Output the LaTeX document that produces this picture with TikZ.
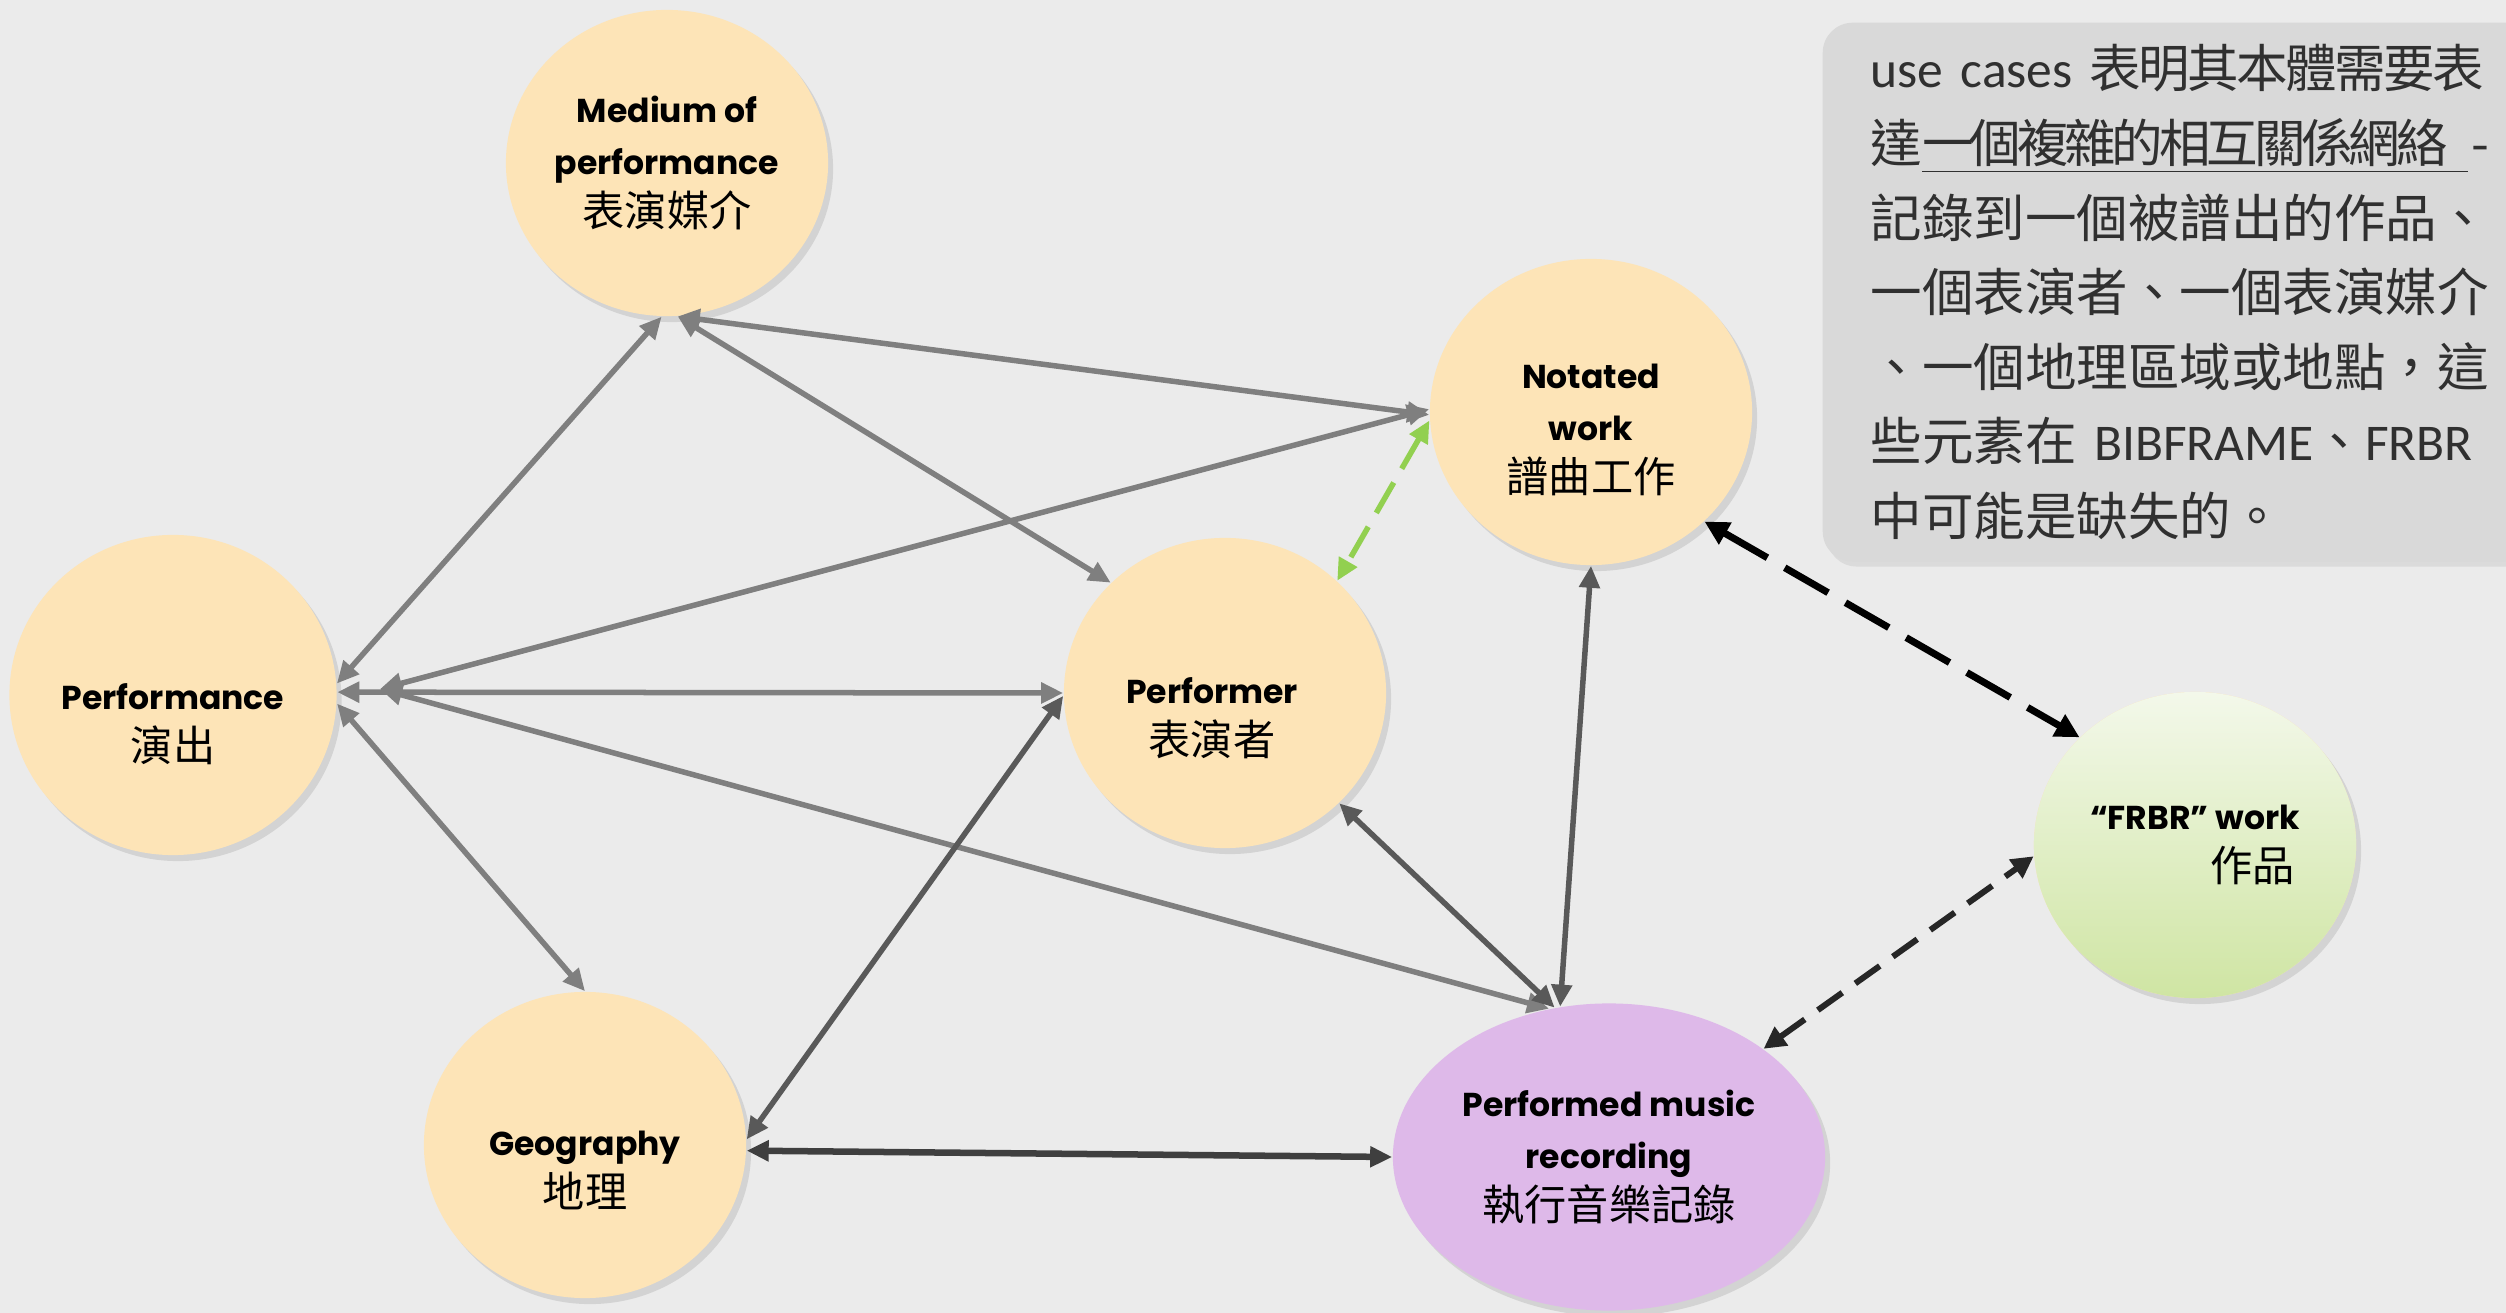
\documentclass[tikz,border=0pt]{standalone}
\usepackage{fontspec}
\setmainfont{Poppins}
\newfontfamily\cjk{Noto Sans CJK TC}
\newfontfamily\latn{Carlito}
\usetikzlibrary{arrows.meta, shapes.geometric, shadows}
\definecolor{fond}{HTML}{EBEBEB}
\definecolor{peche}{HTML}{FDE4B7}
\definecolor{mauve}{HTML}{DEB9E9}
\definecolor{vertclair}{HTML}{F3F8EA}
\definecolor{vertfonce}{HTML}{CFE5A3}
\definecolor{encadre}{HTML}{D9D9D9}
\definecolor{gris}{HTML}{7F7F7F}
\definecolor{grisf}{HTML}{595959}
\definecolor{grisff}{HTML}{3F3F3F}
\definecolor{noirdoux}{HTML}{262626}
\definecolor{vert}{HTML}{92D050}
\definecolor{texte}{HTML}{303030}
\newcommand{\zhtxt}[1]{{\cjk\mdseries\fontsize{12}{14.8}\selectfont #1}}
\newcommand{\lat}[1]{{\latn #1}}
\newcommand{\toppad}[1]{\rule{0pt}{#1}}

\begin{document}
\begin{tikzpicture}[x=0.01cm, y=-0.01cm,
    >={Triangle[length=0.22cm, width=0.2cm]},
    ent/.style={ellipse, fill=peche, minimum width=3.22cm, minimum height=3.06cm,
      inner sep=0pt, align=center, font=\fontsize{9.4}{14.8}\selectfont\bfseries,
      drop shadow={opacity=0.22, shadow xshift=0.05cm, shadow yshift=-0.06cm}},
    lien/.style={<->, line width=0.055cm, gris},
    lienf/.style={lien, grisf},
    tirets/.style={<->, line width=0.07cm, dash pattern=on 0.5cm off 0.2cm,
      >={Triangle[length=0.24cm, width=0.24cm]}}]

  \useasboundingbox (0,0) rectangle (2506,1313);
  \clip (0,0) rectangle (2506,1313);
  \fill[fond] (0,0) rectangle (2506,1313);

  % --- encadre ---
  \node[fill=encadre, rounded corners=0.3cm, anchor=north west, text width=6.18cm,
        inner xsep=0.48cm, inner ysep=0.22cm, text=texte, align=left,
        font=\cjk\fontsize{14.65}{21.2}\selectfont,
        drop shadow={opacity=0.15, shadow xshift=0.04cm, shadow yshift=-0.05cm}]
        (note) at (1822,22) {%
    {\addfontfeature{LetterSpace=-5}\makebox[6.18cm][s]{\lat{use} \lat{cases} 表明其本體需要表}}\\
    {\addfontfeature{LetterSpace=-8}\makebox[6.18cm][s]{達\underline{一個複雜的相互關係網絡\hspace*{0.4em}}\hfill-}}\\
    記錄到一個被譜出的作品、\\
    一個表演者、一個表演媒介\\
    、一個地理區域或地點，這\\
    \makebox[6.18cm][s]{些元素在 \lat{BIBFRAME}、\lat{FRBR}}\\
    中可能是缺失的。};

  % --- entites ---
  \node[ent] (med) at (667,163) {Medium of\\performance\\\zhtxt{表演媒介}};
  \node[ent] (notw) at (1591,412) {\toppad{0.61cm}Notated\\work\\\zhtxt{譜曲工作}};
  \node[ent, minimum width=3.27cm, minimum height=3.2cm] (perf) at (173,695)
       {\toppad{0.84cm}Performance\\\zhtxt{演出}};
  \node[ent, minimum height=3.1cm] (pfr) at (1225,693)
       {\toppad{0.76cm}Performer\hspace*{0.26cm}\\\zhtxt{表演者}\hspace*{0.26cm}};
  \node[ent] (geo) at (585,1145) {\toppad{0.75cm}Geography\\\zhtxt{地理}};
  \node[ent, fill=mauve, minimum width=4.32cm, minimum height=3.07cm] (rec) at (1609,1157)
       {Performed music\\recording\\\zhtxt{執行音樂記錄}};
  \node[ent, top color=vertclair, bottom color=vertfonce] (frbr) at (2195,845)
       {“FRBR” work\\\hspace*{1.15cm}\zhtxt{作品}};
  \coordinate (perfhub) at (380,689);

  % --- liens gris ---
  \draw[lien] (perf.4) -- (med.268);
  \draw[lien] (med.274) -- (notw.181);
  \draw[lien] (med.274) -- (pfr.136);
  \draw[lien] (perfhub) -- (notw.179);
  \draw[lien] (perf.1) -- (pfr.180);
  \draw[lien] (perf.357) -- (geo.90);
  \draw[lien] (perfhub) -- (rec.112);

  % --- liens fonces ---
  \draw[lienf] (rec.110) -- (pfr.316);
  \draw[lienf] (rec.108) -- (notw.270);
  \draw[lienf] (geo.2) -- (pfr.181);
  \draw[lienf, grisff, line width=0.065cm] (geo.358) -- (rec.180);

  % --- pointilles ---
  \draw[<->, vert, line width=0.055cm, dash pattern=on 0.35cm off 0.16cm] (notw.183) -- (pfr.45);
  \draw[tirets] (notw.316) -- (frbr.137);
  \draw[tirets, noirdoux, line width=0.06cm, dash pattern=on 0.3cm off 0.16cm,
        >={Triangle[length=0.22cm, width=0.22cm]}] (rec.35) -- (frbr.184);
\end{tikzpicture}
\end{document}
